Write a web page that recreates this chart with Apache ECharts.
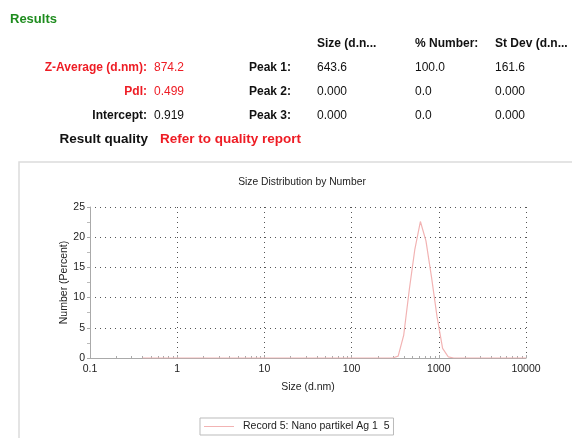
<!DOCTYPE html>
<html>
<head>
<meta charset="utf-8">
<script src="https://cdn.jsdelivr.net/npm/echarts@6/dist/echarts.min.js"></script>
<style>
  html, body { margin: 0; padding: 0; background: #fff; }
  #chart { width: 572px; height: 438px; }
</style>
</head>
<body>
<div id="chart"></div>
<script>
// Size classes (d.nm) of the distribution
const sizes = [0.4, 0.4632, 0.5365, 0.6213, 0.7195, 0.8332, 0.9649, 1.117, 1.294, 1.499,
  1.736, 2.010, 2.328, 2.696, 3.122, 3.615, 4.187, 4.849, 5.615, 6.503,
  7.531, 8.721, 10.10, 11.70, 13.54, 15.69, 18.17, 21.04, 24.36, 28.21,
  32.67, 37.84, 43.82, 50.75, 58.77, 68.06, 78.82, 91.28, 105.7, 122.4,
  141.8, 164.2, 190.1, 220.2, 255.0, 295.3, 342.0, 396.1, 458.7, 531.2,
  615.1, 712.4, 825.0, 955.4, 1106, 1281, 1484, 1718, 1990, 2305,
  2669, 3091, 3580, 4145, 4801, 5560, 6439, 7456, 8635, 10000];

// Number (%) in each size class
const numberPct = [0, 0, 0, 0, 0, 0, 0, 0, 0, 0,
  0, 0, 0, 0, 0, 0, 0, 0, 0, 0,
  0, 0, 0, 0, 0, 0, 0, 0, 0, 0,
  0, 0, 0, 0, 0, 0, 0, 0, 0, 0,
  0, 0, 0, 0, 0, 0, 0.3, 3.8, 11.3, 18.0,
  22.6, 19.4, 13.4, 6.8, 1.6, 0.2, 0, 0, 0, 0,
  0, 0, 0, 0, 0, 0, 0, 0, 0, 0];

const seriesName = 'Record 5: Nano partikel Ag 1  5';

// Results summary table
const summaryLabels = ['Z-Average (d.nm):', 'PdI:', 'Intercept:'];
const summaryValues = ['874.2', '0.499', '0.919'];
const summaryRed = [true, true, false];
const peakHeaders = ['Size (d.n...', '% Number:', 'St Dev (d.n...'];
const peakLabels = ['Peak 1:', 'Peak 2:', 'Peak 3:'];
const peakSize = ['643.6', '0.000', '0.000'];
const peakNumber = ['100.0', '0.0', '0.0'];
const peakStDev = ['161.6', '0.000', '0.000'];
const qualityLabel = 'Result quality';
const qualityValue = 'Refer to quality report';

const FONT = '"Liberation Sans", Arial, Helvetica, sans-serif';
const RED = '#ee1c24';
const GREEN = '#1e8c1e';
const LINE_COLOR = '#f2b3b3';

function txt(x, y, text, opts) {
  opts = opts || {};
  return {
    type: 'text', x: x, y: y, silent: true,
    style: {
      text: text,
      fill: opts.color || '#111',
      font: (opts.bold ? 'bold ' : '') + (opts.size || 12) + 'px ' + FONT,
      textAlign: opts.align || 'left',
      textVerticalAlign: 'middle'
    }
  };
}

const graphics = [];
// frame around the plot panel
graphics.push({
  type: 'rect', silent: true, z: -1,
  shape: { x: 19, y: 162, width: 600, height: 320 },
  style: { fill: '#fff', stroke: '#dcdcdc', lineWidth: 1.5 }
});
graphics.push(txt(10, 19, 'Results', { bold: true, size: 13, color: GREEN }));

const colX = [317, 415, 495];
const rowY = [68, 92, 116];
peakHeaders.forEach((h, i) => graphics.push(txt(colX[i], 44, h, { bold: true })));
summaryLabels.forEach((l, i) => {
  const c = summaryRed[i] ? RED : '#111';
  graphics.push(txt(147, rowY[i], l, { bold: true, align: 'right', color: c }));
  graphics.push(txt(154, rowY[i], summaryValues[i], { color: c }));
});
peakLabels.forEach((l, i) => {
  graphics.push(txt(291, rowY[i], l, { bold: true, align: 'right' }));
  graphics.push(txt(colX[0], rowY[i], peakSize[i]));
  graphics.push(txt(colX[1], rowY[i], peakNumber[i]));
  graphics.push(txt(colX[2], rowY[i], peakStDev[i]));
});
graphics.push(txt(148, 139, qualityLabel, { bold: true, size: 13.5, align: 'right' }));
graphics.push(txt(160, 139, qualityValue, { bold: true, size: 13.5, color: RED }));

const chart = echarts.init(document.getElementById('chart'), null, { renderer: 'canvas' });

const gridLine = { show: true, lineStyle: { color: '#555', width: 1, type: [1, 4] } };

chart.setOption({
  backgroundColor: '#fff',
  animation: false,
  textStyle: { fontFamily: FONT },
  title: {
    text: 'Size Distribution by Number',
    left: 297, top: 172, textAlign: 'center',
    textStyle: { fontSize: 10.3, fontWeight: 'normal', color: '#222', fontFamily: FONT }
  },
  graphic: graphics,
  grid: { left: 90, right: 46, top: 207, bottom: 80, containLabel: false },
  legend: {
    data: [{ name: seriesName, icon: 'rect' }],
    left: 200, top: 418,
    itemWidth: 30, itemHeight: 1, itemGap: 8,
    padding: [3, 4, 3, 4],
    borderColor: '#bbb', borderWidth: 1, borderRadius: 0,
    textStyle: { fontSize: 10.5, color: '#222', fontFamily: FONT, padding: [0, 0, 0, 4] }
  },
  xAxis: {
    type: 'log', logBase: 10, min: 0.1, max: 10000,
    name: 'Size (d.nm)', nameLocation: 'middle', nameGap: 24,
    nameMoveOverlap: false,
    nameTextStyle: { fontSize: 10.5, color: '#222' },
    axisLine: { show: true, lineStyle: { color: '#aaa', width: 1 } },
    axisTick: { show: true, inside: true, length: 3, lineStyle: { color: '#aaa' } },
    minorTick: { show: true, splitNumber: 9, length: 2, lineStyle: { color: '#aaa' } },
    axisLabel: { fontSize: 10.5, color: '#222', margin: 6,
      formatter: v => String(Math.round(v * 10) / 10) },
    splitLine: gridLine
  },
  yAxis: {
    type: 'value', min: 0, max: 25, interval: 5,
    name: 'Number (Percent)', nameLocation: 'middle', nameGap: 26,
    nameMoveOverlap: false,
    nameTextStyle: { fontSize: 10.5, color: '#222', align: 'center', verticalAlign: 'middle' },
    axisLine: { show: true, lineStyle: { color: '#aaa', width: 1 } },
    axisTick: { show: true, length: 3, lineStyle: { color: '#aaa' } },
    minorTick: { show: true, splitNumber: 2, length: 3, lineStyle: { color: '#bbb' } },
    axisLabel: { fontSize: 10.5, color: '#222', margin: 5 },
    splitLine: gridLine
  },
  series: [{
    name: seriesName,
    type: 'line',
    data: sizes.map((s, i) => [s, numberPct[i]]),
    symbol: 'none',
    showSymbol: false,
    lineStyle: { color: LINE_COLOR, width: 1.2 },
    itemStyle: { color: LINE_COLOR },
    z: 5
  }]
});
</script>
</body>
</html>
